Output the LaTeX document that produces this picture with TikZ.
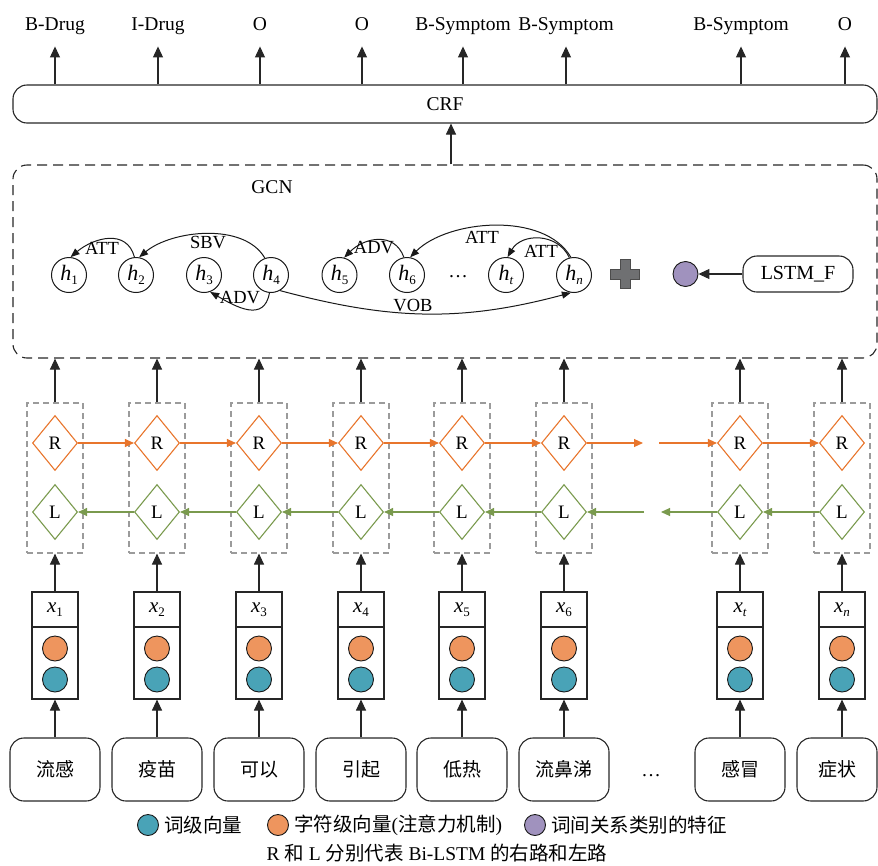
\documentclass[tikz,border=0pt]{standalone}
\usepackage{fontspec}
\setmainfont{Liberation Serif}
\newfontfamily\cjk{Noto Sans CJK SC}
\usetikzlibrary{arrows.meta,shapes.geometric}
\definecolor{rOrange}{HTML}{E8752C}
\definecolor{lGreen}{HTML}{7A9A4E}
\definecolor{cOrange}{HTML}{EE955E}
\definecolor{cBlue}{HTML}{49A3B7}
\definecolor{cPurple}{HTML}{A092BE}
\definecolor{plusGray}{HTML}{6F7072}
\definecolor{dashGray}{HTML}{9B9B9B}
\newcommand\lsub[1]{\raisebox{-0.45ex}{\fontsize{13}{13}\selectfont #1}}
\begin{document}
\begin{tikzpicture}[x=1pt,y=-1pt,
  every node/.style={inner sep=0pt, font=\fontsize{19.5}{22}\selectfont},
  arr/.style={draw=black!85, line width=1.1pt, -{Triangle[length=11pt,width=10pt]}},
  garr/.style={draw=black!90, line width=1pt, -{Triangle[length=9pt,width=7pt]}},
  rarr/.style={draw=rOrange, line width=1.1pt, -{Triangle[length=9pt,width=8pt]}},
  larr/.style={draw=lGreen, line width=1.1pt, -{Triangle[length=9pt,width=8pt]}},
  toplab/.style={anchor=base},
  bigbox/.style={draw=black!85, line width=1.1pt, rounded corners=14pt, minimum width=864pt},
  wordbox/.style={draw=black!85, line width=1.1pt, rounded corners=14pt, minimum width=90pt, minimum height=63pt, font=\cjk\fontsize{19}{22}\selectfont},
  xtop/.style={draw=black!85, line width=1.1pt, minimum width=46pt, minimum height=35pt, font=\fontsize{21}{22}\selectfont},
  xbot/.style={draw=black!85, line width=1.1pt, minimum width=46pt, minimum height=72pt},
  dot/.style={circle, draw=black!90, line width=0.9pt, minimum size=25pt},
  colbox/.style={draw=dashGray, line width=1.1pt, dash pattern=on 6pt off 4pt, minimum width=56pt, minimum height=150pt},
  rdia/.style={diamond, draw=rOrange, line width=1.1pt, minimum width=45pt, minimum height=55pt, font=\fontsize{19}{20}\selectfont},
  ldia/.style={diamond, draw=lGreen, line width=1.1pt, minimum width=45pt, minimum height=55pt, font=\fontsize{19}{20}\selectfont},
  hnode/.style={circle, draw=black!90, line width=1pt, minimum size=35pt, font=\fontsize{22}{22}\selectfont},
  elab/.style={font=\fontsize{18.5}{19}\selectfont}
]
\useasboundingbox (0,0) rectangle (878,865);

% CRF and GCN boxes
\node[bigbox, minimum height=38pt] (crf) at (445,104) {CRF};
\node[bigbox, dash pattern=on 10pt off 6pt, minimum height=193pt] (gcn) at (445,261.5) {};
\node (gcnlab) at (272,187) {GCN};
\draw[arr] ([xshift=6pt]gcn.north) -- ([xshift=6pt]crf.south);

% top labels
\foreach \i/\x/\t in {1/55/B-Drug,2/158/I-Drug,3/260/O,4/362/O,5/463/B-Symptom,6/566/B-Symptom,7/741/B-Symptom,8/845/O}{
  \node[toplab] (t\i) at (\x,30.5) {\t};
  \draw[arr] (t\i |- crf.north) -- ++(0,-38);
}

% columns
\foreach \i/\x/\lab in {1/55/1,2/157/2,3/259/3,4/361/4,5/462/5,6/564/6,7/740/{\itshape t},8/842/{\itshape n}}{
  \node[colbox] (d\i) at (\x,478) {};
  \node[rdia] (R\i) at (\x,443) {R};
  \node[ldia] (L\i) at (\x,512) {L};
  \node[xtop] (xt\i) at (\x,609.5) {{\itshape x}\lsub{\lab}};
  \node[xbot] (xc\i) at (\x,663) {};
  \node[dot, fill=cOrange] (co\i) at (\x,648.5) {};
  \node[dot, fill=cBlue] (cb\i) at (\x,679.5) {};
  \draw[arr] (xt\i.north) -- (d\i.south);
  \draw[arr] (d\i.north) -- (d\i.north |- gcn.south);
}

% word boxes
\foreach \i/\x/\w in {1/55/流感,2/157/疫苗,3/259/可以,4/361/引起,5/462/低热,6/564/流鼻涕,7/740/感冒}{
  \node[wordbox] (w\i) at (\x,769.5) {\w};
}
\node[wordbox, minimum width=80pt] (w8) at (837,769.5) {症状};
\foreach \i in {1,...,8}{
  \draw[arr] (w\i.north -| xc\i) -- (xc\i.south);
}
\node[anchor=base] (wdots) at (651,776) {…};

% R / L chains
\foreach \a/\b in {1/2,2/3,3/4,4/5,5/6,7/8}{
  \draw[rarr] (R\a.east) -- (R\b.west);
  \draw[larr] (L\b.west) -- (L\a.east);
}
\coordinate (rgapA) at (643,443);
\coordinate (rgapB) at (659,443);
\draw[rarr] (R6.east) -- (rgapA);
\draw[rarr] (rgapB) -- (R7.west);
\coordinate (lgapA) at (661,512);
\coordinate (lgapB) at (644,512);
\draw[larr] (L7.west) -- (lgapA);
\draw[larr] (lgapB) -- (L6.east);

% GCN graph
\foreach \n/\x in {1/69,2/136,3/204,4/271,5/339.5,6/407}{
  \node[hnode] (h\n) at (\x,275) {{\itshape h}\lsub{\n}};
}
\node[hnode] (ht) at (506,275) {{\itshape h}\lsub{\itshape t}};
\node[hnode] (hn) at (574,275) {{\itshape h}\lsub{\itshape n}};
\node[anchor=base] (gdots) at (458,277) {…};

\draw[garr] (h2.95) to[out=105,in=40,looseness=1.2] (h1.85);
\node[elab] (l1) at (102,248) {ATT};
\draw[garr] (h4.110) to[out=120,in=40,looseness=0.85] (h2.80);
\node[elab] (l2) at (208,243) {SBV};
\draw[garr] (h4.-95) to[out=-100,in=-30,looseness=1.3] (h3.-70);
\node[elab] (l3) at (240,298) {ADV};
\draw[garr] (h4.-60) to[out=-15,in=-165] (hn.-100);
\node[elab] (l4) at (413,306) {VOB};
\draw[garr] (h6.100) to[out=110,in=45,looseness=1.2] (h5.75);
\node[elab] (l5) at (374,248) {ADV};
\draw[garr] (hn.100) to[out=120,in=45,looseness=0.85] (h6.80);
\node[elab] (l6) at (482,237) {ATT};
\draw[garr] (hn.105) to[out=115,in=60,looseness=1.15] (ht.85);
\node[elab] (l7) at (541,251) {ATT};

% plus, feature dot, LSTM_F
\node (plus) at (625,274) {};
\filldraw[fill=plusGray, draw=black!70, line width=0.8pt]
  (620,259.5) -- (630,259.5) -- (630,269) -- (639.5,269) -- (639.5,279) -- (630,279)
  -- (630,288.5) -- (620,288.5) -- (620,279) -- (610.5,279) -- (610.5,269) -- (620,269) -- cycle;
\node[dot, fill=cPurple] (pc) at (685.5,274) {};
\node[draw=black!85, line width=1.1pt, rounded corners=14pt, minimum width=110pt, minimum height=36pt, font=\fontsize{20}{22}\selectfont] (lf) at (798,274) {LSTM\_F};
\draw[arr] (lf.west) -- (pc.east);

% legend
\node[dot, fill=cBlue, minimum size=21pt] (gb) at (148,825) {};
\node[anchor=west, font=\cjk\fontsize{19.5}{22}\selectfont] (gbt) at (164,825) {词级向量};
\node[dot, fill=cOrange, minimum size=21pt] (go) at (278,825) {};
\node[anchor=west] (got) at (294,825) {{\cjk 字符级向量}({\cjk 注意力机制})};
\node[dot, fill=cPurple, minimum size=21pt] (gp) at (535,825) {};
\node[anchor=west, font=\cjk\fontsize{19.5}{22}\selectfont] (gpt) at (551,825) {词间关系类别的特征};
\node (cap) at (437,853) {R {\cjk 和} L {\cjk 分别代表} Bi-LSTM {\cjk 的右路和左路}};
\end{tikzpicture}
\end{document}
